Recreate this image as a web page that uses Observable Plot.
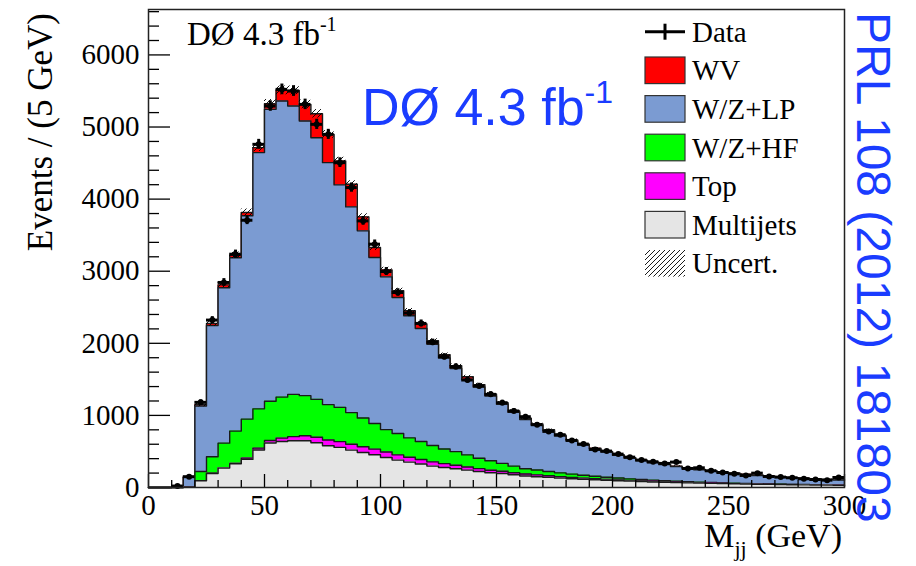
<!DOCTYPE html>
<html>
<head>
<meta charset="utf-8">
<script src="https://cdn.jsdelivr.net/npm/d3@7"></script>
<script src="https://cdn.jsdelivr.net/npm/@observablehq/plot@0.6"></script>
<style>
  html, body { margin: 0; padding: 0; background: #fff; }
  #chart { width: 916px; height: 566px; }
</style>
</head>
<body>
<div id="chart"></div>
<script>
// ---- Data (events per 5 GeV bin of M_jj) ----
const binLow = [0,5,10,15,20,25,30,35,40,45,50,55,60,65,70,75,80,85,90,95,
  100,105,110,115,120,125,130,135,140,145,150,155,160,165,170,175,180,185,190,195,
  200,205,210,215,220,225,230,235,240,245,250,255,260,265,270,275,280,285,290,295];
const binWidth = 5;

const multijets = [0,0,0,5,93,194,269,330,390,520,617,639,649,649,621,579,556,519,486,454,
  417,380,352,325,297,278,260,241,222,204,194,176,160,150,140,130,122,114,107,100,
  94,88,82,77,72,68,64,60,57,54,51,48,46,43,41,39,37,35,33,32];
const topq = [0,0,0,0,2,3,4,5,18,26,34,46,56,68,76,79,80,80,79,78,
  76,72,67,63,58,53,49,44,40,36,32,29,27,25,23,20,18,16,14,13,
  11,10,9,8,7,6,5,5,4,4,3,3,2,2,2,2,2,2,2,1];
const wzhf = [0,0,0,5,127,229,342,447,540,545,545,569,586,557,526,492,476,440,398,356,
  310,296,269,250,228,204,189,167,143,130,108,91,74,68,59,53,46,40,35,30,
  26,22,19,16,14,12,11,9,8,6,6,5,4,4,3,2,2,2,2,2];
const wzlp = [0,0,13,132,908,1820,2156,2405,2821,3554,4049,4106,4000,3809,3629,3356,3085,2853,2597,2302,
  2119,1888,1694,1568,1403,1262,1152,1048,990,900,820,746,682,622,564,510,463,420,380,349,
  317,288,264,243,224,205,187,172,159,146,135,124,115,106,98,92,85,79,73,68];
const wv = [0,0,1,3,20,30,40,35,45,69,78,148,217,231,332,392,332,314,193,139,
  97,92,70,64,50,45,40,37,32,27,22,19,17,15,14,12,11,10,9,8,
  7,7,6,6,5,5,5,4,4,4,3,3,3,3,3,2,2,2,2,2];
const dataCounts = [0,0,20,150,1181,2322,2844,3236,3707,4760,5291,5522,5499,5314,5037,4898,4506,4160,3698,3375,
  2996,2705,2419,2276,2013,1814,1676,1491,1408,1292,1176,1061,982,871,778,732,653,602,528,505,
  463,421,380,357,334,352,264,273,232,208,190,167,199,153,144,135,121,111,102,139];
const uncert = [0,0,2,8,30,40,42,45,50,55,60,62,62,60,58,55,52,48,44,40,
  37,34,31,29,27,25,23,21,20,19,17,16,15,14,13,12,11,10,10,9,
  9,8,8,7,7,7,6,6,6,5,5,5,5,4,4,4,4,4,3,3];

const yMajorTicks = [0,1000,2000,3000,4000,5000,6000];
const yMinorTicks = [200,400,600,800,1200,1400,1600,1800,2200,2400,2600,2800,3200,3400,3600,3800,
  4200,4400,4600,4800,5200,5400,5600,5800,6200,6400,6600];
const xMajorTicks = [0,50,100,150,200,250,300];
const xMinorTicks = [10,20,30,40,60,70,80,90,110,120,130,140,160,170,180,190,210,220,230,240,260,270,280,290];

const series = [
  {name: "Multijets", values: multijets, color: "#e5e5e5"},
  {name: "Top",       values: topq,      color: "#ff00ff"},
  {name: "W/Z+HF",    values: wzhf,      color: "#00ff00"},
  {name: "W/Z+LP",    values: wzlp,      color: "#7b9bd2"},
  {name: "WV",        values: wv,        color: "#ff0000"}
];

// cumulative stack (bottom -> top)
let running = binLow.map(() => 0);
const layers = series.map(s => {
  running = running.map((c, i) => c + s.values[i]);
  return {...s, cum: running.slice()};
});
const total = layers[layers.length - 1].cum;

function steps(vals) {
  const pts = [];
  binLow.forEach((lo, i) => {
    pts.push({x: lo, y: vals[i]});
    pts.push({x: lo + binWidth, y: vals[i]});
  });
  return pts;
}
const bandPts = [];
binLow.forEach((lo, i) => {
  const a = {x: lo, lo: total[i] - uncert[i], hi: total[i] + uncert[i]};
  bandPts.push(a, {...a, x: lo + binWidth});
});
const dataRows = binLow.map((lo, i) => ({lo, hi: lo + binWidth, mid: lo + binWidth / 2, n: dataCounts[i]}))
  .filter(d => d.n > 0);

const stackMarks = [];
[...layers].reverse().forEach(l => {
  const pts = steps(l.cum);
  stackMarks.push(Plot.areaY(pts, {x: "x", y1: 0, y2: "y", fill: l.color}));
  stackMarks.push(Plot.lineY(pts, {x: "x", y: "y", stroke: "#1a1a1a", strokeWidth: 1.4}));
});

const serif = "'Liberation Serif', 'Times New Roman', serif";
const sans = "'Liberation Sans', Arial, sans-serif";
const blue = "#1a3cff";

const chart = Plot.plot({
  width: 916,
  height: 566,
  marginLeft: 148,
  marginRight: 72,
  marginTop: 9,
  marginBottom: 79,
  x: {domain: [0, 300]},
  y: {domain: [0, 6630]},
  style: {fontFamily: serif, color: "black", background: "white", overflow: "visible"},
  marks: [
    ...stackMarks,
    Plot.areaY(bandPts, {x: "x", y1: "lo", y2: "hi", fill: "url(#hatch)"}),
    Plot.ruleY(dataRows, {x1: "lo", x2: "hi", y: "n", stroke: "black", strokeWidth: 3}),
    Plot.ruleX(dataRows, {x: "mid", y1: d => d.n - Math.sqrt(d.n), y2: d => d.n + Math.sqrt(d.n), stroke: "black", strokeWidth: 3}),
    Plot.dot(dataRows, {x: "mid", y: "n", r: 3, fill: "black"}),
    Plot.axisY({ticks: yMajorTicks, tickSize: -22, tickPadding: 31, tickFormat: "d", fontSize: 29, label: null, strokeWidth: 1.3}),
    Plot.axisY({ticks: yMinorTicks, tickSize: -11, tickFormat: () => "", label: null, strokeWidth: 1.3}),
    Plot.axisX({ticks: xMajorTicks, tickSize: -13, tickPadding: 20, tickFormat: "d", fontSize: 29, label: null, strokeWidth: 1.3}),
    Plot.axisX({ticks: xMinorTicks, tickSize: -7, tickFormat: () => "", label: null, strokeWidth: 1.3}),
    Plot.frame({stroke: "#222", strokeWidth: 1.5})
  ]
});

document.getElementById("chart").appendChild(chart);
const svg = d3.select(chart);
// force serif face on the axis tick labels
svg.selectAll("text").attr("font-family", serif).style("font-family", serif).attr("font-variant", null);
svg.insert("defs", ":first-child").html(
  '<pattern id="hatch" patternUnits="userSpaceOnUse" width="5" height="5">' +
  '<path d="M-1,1 l2,-2 M0,5 l5,-5 M4,6 l2,-2" stroke="#000" stroke-width="0.9"/></pattern>'
);

// Axis titles
svg.append("text")
  .attr("transform", "translate(52,13) rotate(-90)")
  .attr("text-anchor", "end")
  .attr("font-family", serif).attr("font-size", 35).attr("fill", "black")
  .text("Events / (5 GeV)");

const xt = svg.append("text")
  .attr("x", 842).attr("y", 547)
  .attr("text-anchor", "end")
  .attr("font-family", serif).attr("font-size", 34).attr("fill", "black");
xt.append("tspan").text("M");
xt.append("tspan").attr("font-size", 22).attr("dy", 9).text("jj");
xt.append("tspan").attr("dy", -9).text(" (GeV)");

// Luminosity labels
const lum = svg.append("text")
  .attr("x", 187).attr("y", 45)
  .attr("text-anchor", "start")
  .attr("font-family", serif).attr("font-size", 33).attr("fill", "black");
lum.append("tspan").text("DØ 4.3 fb");
lum.append("tspan").attr("font-size", 20).attr("dy", -14).text("-1");

const blum = svg.append("text")
  .attr("x", 362).attr("y", 125)
  .attr("text-anchor", "start")
  .attr("font-family", sans).attr("font-size", 52).attr("fill", blue);
blum.append("tspan").text("DØ 4.3 fb");
blum.append("tspan").attr("font-size", 32).attr("dy", -22).text("-1");

svg.append("text")
  .attr("transform", "translate(857,12) rotate(90)")
  .attr("text-anchor", "start")
  .attr("font-family", sans).attr("font-size", 48).attr("fill", blue)
  .text("PRL 108 (2012) 181803");

// Legend
const legendItems = [
  {label: "Data", kind: "data"},
  {label: "WV", kind: "box", color: "#ff0000"},
  {label: "W/Z+LP", kind: "box", color: "#7b9bd2"},
  {label: "W/Z+HF", kind: "box", color: "#00ff00"},
  {label: "Top", kind: "box", color: "#ff00ff"},
  {label: "Multijets", kind: "box", color: "#e5e5e5"},
  {label: "Uncert.", kind: "hatch"}
];
const lg = svg.append("g");
legendItems.forEach((it, i) => {
  const cy = 31.7 + i * 38.6;
  if (it.kind === "data") {
    lg.append("line").attr("x1", 645).attr("x2", 685).attr("y1", cy).attr("y2", cy).attr("stroke", "black").attr("stroke-width", 3);
    lg.append("line").attr("x1", 665).attr("x2", 665).attr("y1", cy - 8).attr("y2", cy + 8).attr("stroke", "black").attr("stroke-width", 3);
  } else if (it.kind === "box") {
    lg.append("rect").attr("x", 645).attr("y", cy - 13.3).attr("width", 40).attr("height", 26.6)
      .attr("fill", it.color).attr("stroke", "#333").attr("stroke-width", 1.2);
  } else {
    lg.append("rect").attr("x", 645).attr("y", cy - 13.3).attr("width", 40).attr("height", 26.6)
      .attr("fill", "url(#hatch)");
  }
  lg.append("text").attr("x", 692).attr("y", cy + 10)
    .attr("text-anchor", "start")
    .attr("font-family", serif).attr("font-size", 29).attr("fill", "black")
    .text(it.label);
});
</script>
</body>
</html>
